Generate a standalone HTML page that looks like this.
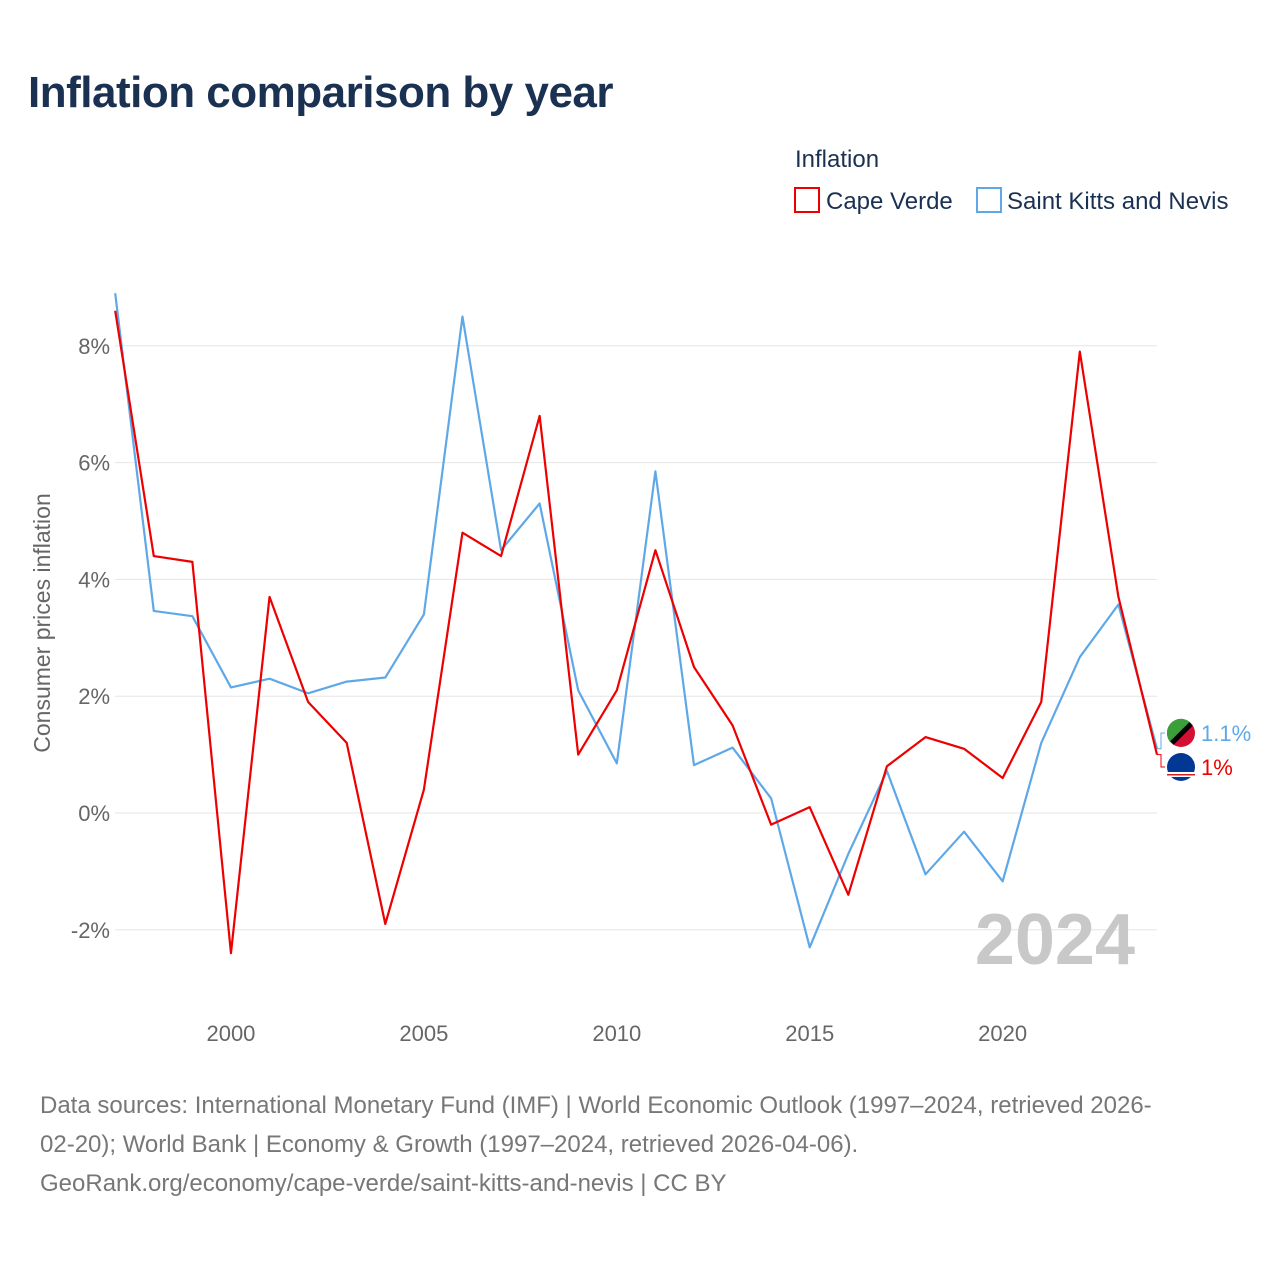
<!DOCTYPE html>
<html><head><meta charset="utf-8">
<style>
body{margin:0;width:1280px;height:1280px;background:#fff;font-family:"Liberation Sans",sans-serif;overflow:hidden}
#title{position:absolute;left:28px;top:68px;font-size:44px;font-weight:bold;color:#1a3152;letter-spacing:-0.5px}
#foot{position:absolute;left:40px;top:1086px;width:1230px;font-size:24px;line-height:39px;color:#777;white-space:nowrap}
</style></head><body>
<div id="title">Inflation comparison by year</div>
<svg id="chart" width="1280" height="1080" style="position:absolute;left:0;top:0"></svg>
<div id="foot">Data sources: International Monetary Fund (IMF) | World Economic Outlook (1997–2024, retrieved 2026-<br>02-20); World Bank | Economy &amp; Growth (1997–2024, retrieved 2026-04-06).<br>GeoRank.org/economy/cape-verde/saint-kitts-and-nevis | CC BY</div>
<script>
const years=[1997,1998,1999,2000,2001,2002,2003,2004,2005,2006,2007,2008,2009,2010,2011,2012,2013,2014,2015,2016,2017,2018,2019,2020,2021,2022,2023,2024];
const capeVerde=[8.6,4.4,4.3,-2.4,3.7,1.9,1.2,-1.9,0.4,4.8,4.4,6.8,1.0,2.1,4.5,2.5,1.5,-0.2,0.1,-1.4,0.8,1.3,1.1,0.6,1.9,7.9,3.7,1.0];
const saintKitts=[8.9,3.46,3.37,2.15,2.3,2.05,2.25,2.32,3.4,8.5,4.5,5.3,2.1,0.85,5.85,0.82,1.12,0.25,-2.3,-0.7,0.72,-1.05,-0.32,-1.17,1.2,2.67,3.57,1.1];
const yTicks=[-2,0,2,4,6,8];
const xTicks=[2000,2005,2010,2015,2020];
const NS="http://www.w3.org/2000/svg";
const svg=document.getElementById('chart');
const x=v=>115.2+(v-1997)*(1157-115.2)/27;
const y=v=>813-v*58.4;
function mk(t,a,txt){const e=document.createElementNS(NS,t);for(const k in a)e.setAttribute(k,a[k]);if(txt!==undefined)e.textContent=txt;svg.appendChild(e);return e;}
yTicks.forEach(t=>{
 const g=mk('line',{x1:115,x2:1157,y1:y(t),y2:y(t),stroke:'#e6e6e6','stroke-width':1});
 
 
 const l=mk('text',{x:110,y:y(t)+8,'text-anchor':'end','font-size':22,fill:'#666'},t+'%');
 
 
});
xTicks.forEach(t=>{
 const l=mk('text',{x:x(t),y:1041,'text-anchor':'middle','font-size':22,fill:'#666'},t);
 
 
});
const yt=mk('text',{x:0,y:0,transform:'translate(50,623) rotate(-90)','text-anchor':'middle','font-size':23,fill:'#666'},'Consumer prices inflation');


const yr=mk('text',{x:1135,y:964,'text-anchor':'end','font-size':72,'font-weight':'bold',fill:'#c8c8c8'},'2024');


function line(vals,col,name){
 const p=mk('polyline',{points:vals.map((v,i)=>x(years[i])+','+y(v)).join(' '),fill:'none',stroke:col,'stroke-width':2.2,'stroke-linejoin':'round'});
 
 
}
line(saintKitts,'#5fa8e8','saint-kitts-line');
line(capeVerde,'#ee0000','cape-verde-line');
const lx=x(2024);
mk('polyline',{points:`${lx},${y(1.1)} ${lx+4},${y(1.1)} ${lx+4},733 ${lx+8},733`,fill:'none',stroke:'#5fa8e8','stroke-width':1});
mk('polyline',{points:`${lx},${y(1.0)} ${lx+4},${y(1.0)} ${lx+4},767 ${lx+8},767`,fill:'none',stroke:'#ee0000','stroke-width':1});
const f1=mk('circle',{cx:1181,cy:733,r:14,fill:'#d21034'});


mk('path',{d:'M1167,733 A14,14 0 0 1 1191,723 L1171,743 A14,14 0 0 1 1167,733Z',fill:'#3b9e3b'});
mk('line',{x1:1172,y1:743,x2:1191,y2:724,stroke:'#000','stroke-width':5});
const f2=mk('circle',{cx:1181,cy:767,r:14,fill:'#003893'});


mk('rect',{x:1167,y:772,width:28,height:5,fill:'#fff'});
mk('rect',{x:1167,y:774,width:28,height:1.5,fill:'#cf2027'});
const v1=mk('text',{x:1201,y:741,'font-size':22,fill:'#5fa8e8'},'1.1%');


const v2=mk('text',{x:1201,y:775,'font-size':22,fill:'#ee0000'},'1%');


const lt=mk('text',{x:795,y:167,'font-size':24,fill:'#1a3152'},'Inflation');


const r1=mk('rect',{x:795,y:188,width:24,height:24,fill:'none',stroke:'#ee0000','stroke-width':2});


mk('text',{x:826,y:209,'font-size':24,fill:'#1a3152'},'Cape Verde');
const r2=mk('rect',{x:977,y:188,width:24,height:24,fill:'none',stroke:'#5fa8e8','stroke-width':2});


mk('text',{x:1007,y:209,'font-size':24,fill:'#1a3152'},'Saint Kitts and Nevis');
</script>
</body></html>
